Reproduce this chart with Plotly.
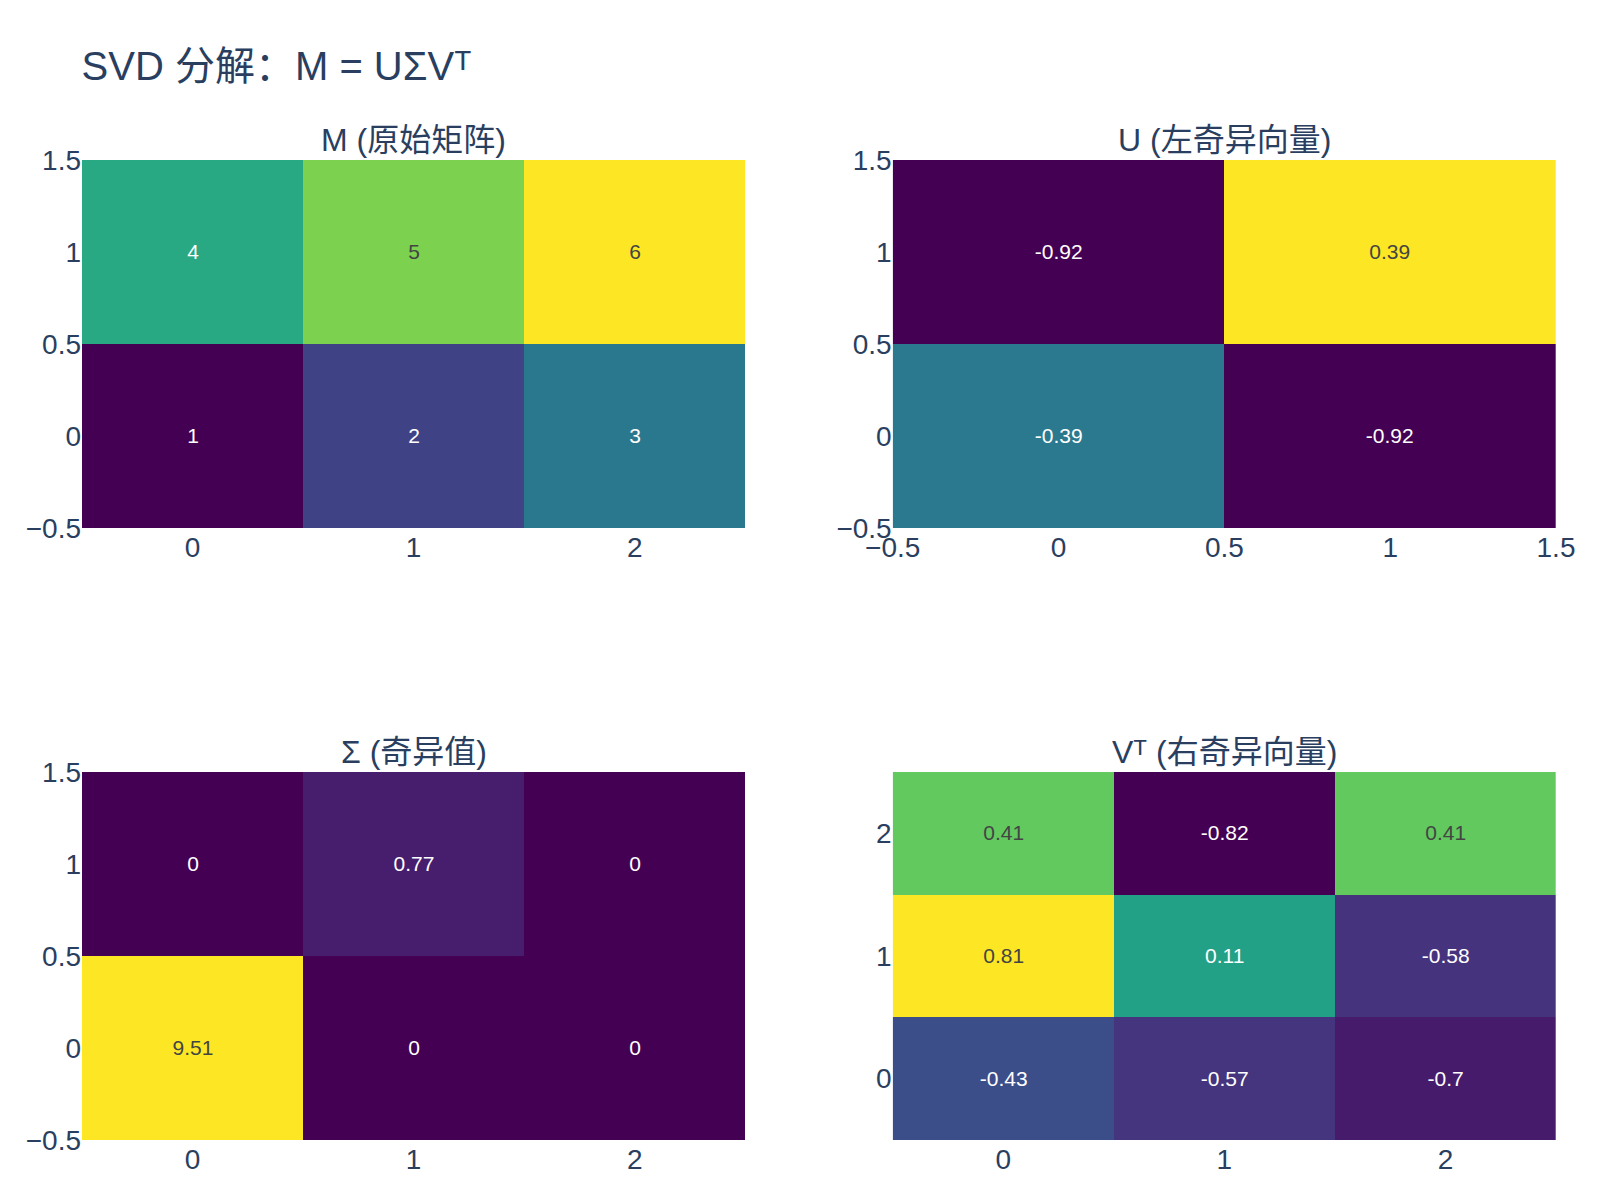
import plotly.graph_objects as go
from plotly.subplots import make_subplots

# Data
M_vals = [[1, 2, 3], [4, 5, 6]]
U_vals = [[-0.39, -0.92], [-0.92, 0.39]]
S_vals = [[9.51, 0, 0], [0, 0.77, 0]]
VT_vals = [[-0.43, -0.57, -0.7], [0.81, 0.11, -0.58], [0.41, -0.82, 0.41]]

titles = ["M (原始矩阵)", "U (左奇异向量)", "Σ (奇异值)", "Vᵀ (右奇异向量)"]
main_title = "SVD 分解：M = UΣVᵀ"

FONT = "Arial, 'Liberation Sans', 'Noto Sans CJK SC', sans-serif"

fig = make_subplots(rows=2, cols=2, subplot_titles=titles,
                    horizontal_spacing=0.1, vertical_spacing=0.249)

mats = [M_vals, U_vals, S_vals, VT_vals]
pos = [(1, 1), (1, 2), (2, 1), (2, 2)]
xdt = [1, 0.5, 1, 1]
ydt = [0.5, 0.5, 0.5, 1]
for z, (r, c), dx, dy in zip(mats, pos, xdt, ydt):
    txt = [[str(v) for v in row] for row in z]
    fig.add_trace(go.Heatmap(z=z, text=txt, colorscale="Viridis", showscale=False,
                             texttemplate="%{text}", textfont=dict(size=21)),
                  row=r, col=c)
    fig.update_xaxes(dtick=dx, row=r, col=c)
    fig.update_yaxes(dtick=dy, row=r, col=c)

fig.update_annotations(font=dict(size=32, family=FONT))
fig.update_layout(
    template="plotly_white",
    width=1600, height=1200,
    font=dict(family=FONT, size=28, color="#2a3f5f"),
    title=dict(text=main_title, x=0.051, xanchor="left", y=0.945, yanchor="middle",
               font=dict(size=40, family=FONT)),
    margin=dict(l=82, r=44, t=160, b=60),
)
fig.update_xaxes(showgrid=False, zeroline=False)
fig.update_yaxes(showgrid=False, zeroline=False)

fig.write_html("out.html")
